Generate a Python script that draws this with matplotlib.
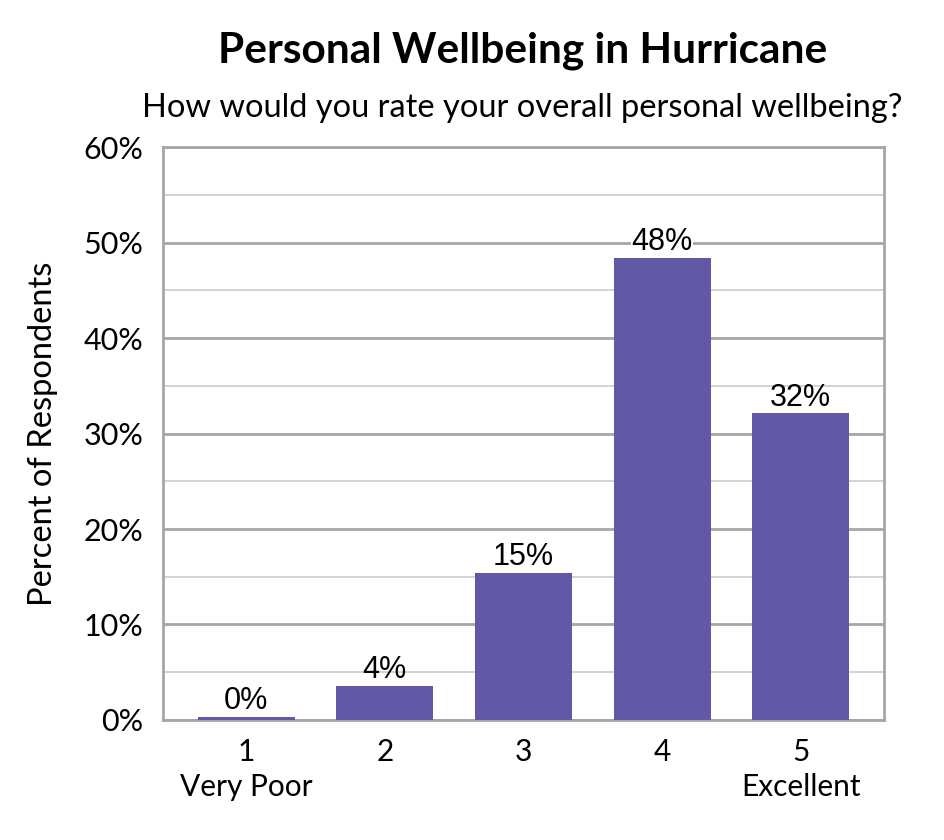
import numpy as np
import matplotlib.pyplot as plt
import matplotlib.ticker as ticker

# ── Datos ─────────────────────────────────────────────────────────────────────
categorias = ["1\nVery Poor", "2", "3", "4", "5\nExcellent"]
valores    = [0.3, 3.6, 15.4, 48.4, 32.1]
etiquetas  = ["0%", "4%", "15%", "48%", "32%"]

titulo    = "Personal Wellbeing in Hurricane"
subtitulo = "How would you rate your overall personal wellbeing?"

color_barra = '#6159A6'
fuente = 'Lato'

fig = plt.figure(figsize=(9.45, 8.4), dpi=100)
ax = fig.add_axes([0.1725, 0.1429, 0.763, 0.682])

x = np.arange(len(categorias))
ax.bar(x, valores, width=0.70, color=color_barra, zorder=3)

for xi, v, lab in zip(x, valores, etiquetas):
    ax.text(xi, v + 0.1, lab, ha='center', va='bottom', fontsize=22,
            family='Liberation Sans', zorder=4,
            bbox=dict(facecolor='white', edgecolor='none', pad=0.3) if v > 40 else None)

ax.set_xlim(-0.6, 4.6)
ax.set_ylim(0, 60)
ax.yaxis.set_major_locator(ticker.MultipleLocator(10))
ax.yaxis.set_minor_locator(ticker.MultipleLocator(5))
ax.yaxis.set_major_formatter(ticker.FuncFormatter(lambda v, p: f"{v:.0f}%"))
ax.set_xticks(x)
ax.set_xticklabels(categorias, fontsize=21.5, family=fuente, linespacing=1.3)
for t in ax.get_yticklabels():
    t.set_family(fuente)
    t.set_fontsize(22)

ax.tick_params(axis='both', length=0)
ax.tick_params(axis='y', pad=14)
ax.tick_params(axis='x', pad=13)
ax.tick_params(axis='y', which='minor', length=0)

ax.grid(True, axis='y', which='major', color='#A6A6A6', lw=2, zorder=1)
ax.grid(True, axis='y', which='minor', color='#CFCFCF', lw=1.3, zorder=1)
for s in ax.spines.values():
    s.set_color('#A6A6A6')
    s.set_linewidth(2)

ax.set_ylabel('Percent of Respondents', fontsize=23.5, family=fuente, va='center')
ax.yaxis.set_label_coords(-0.166, 0.5)

fig.text(0.553, 0.94, titulo, ha='center', va='center', fontsize=30.5,
         fontweight='bold', family=fuente)
fig.text(0.553, 0.872, subtitulo, ha='center', va='center', fontsize=23.5, family=fuente)

plt.savefig('out.png', dpi=100)
